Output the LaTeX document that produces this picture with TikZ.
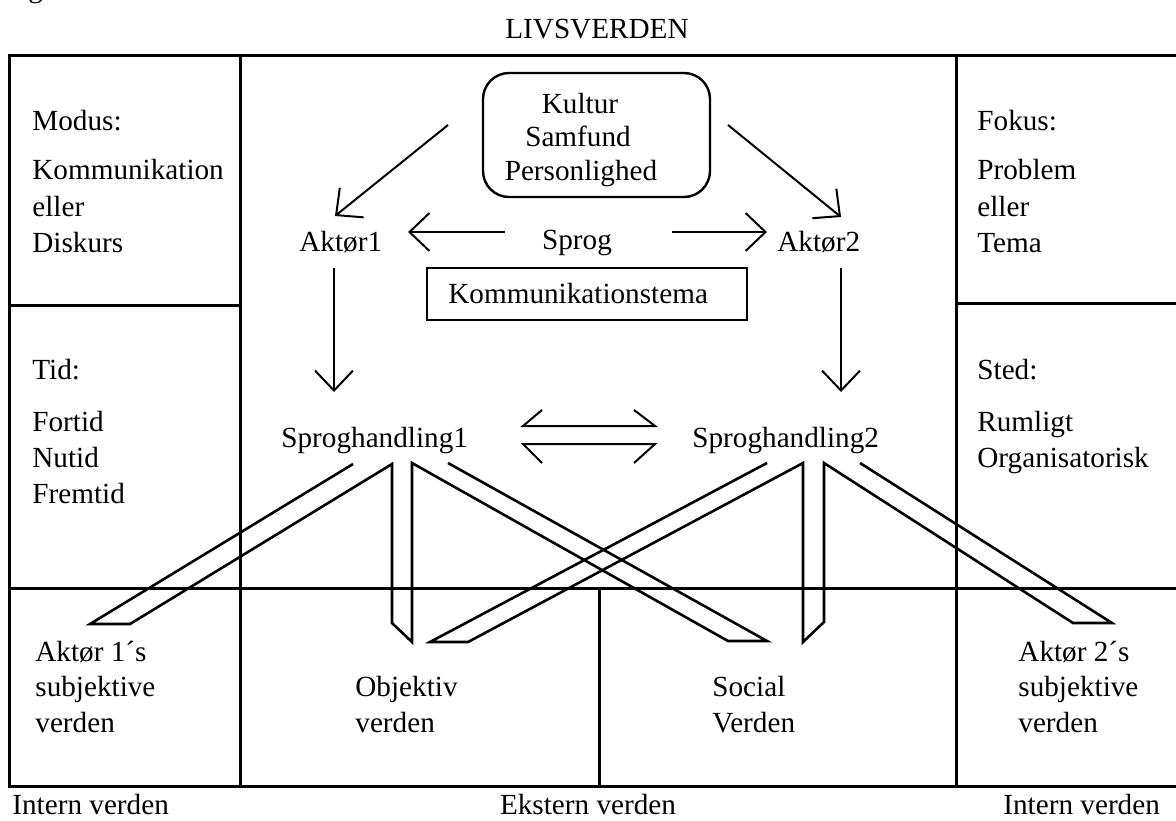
\documentclass[tikz,border=0pt]{standalone}
\usepackage{fontspec}
\setmainfont{Liberation Serif}
\usetikzlibrary{arrows.meta,calc}
\begin{document}
\begin{tikzpicture}[x=0.5pt,y=-0.5pt,
  frame/.style={line width=1.5pt},
  wedge/.style={line width=1.3pt,line join=miter},
  conn/.style={line width=1pt,-{Straight Barb[length=10pt,width=19pt,line width=1pt]}},
  barb/.style={line width=1pt},
  txt/.style={font=\fontsize{14.6}{18.25}\selectfont,inner sep=0pt,anchor=base west},
  ctxt/.style={font=\fontsize{14.6}{18.25}\selectfont,inner sep=0pt,anchor=base},
  kbox/.style={draw,line width=1.2pt,rounded corners=13pt,inner sep=0pt},
  tbox/.style={draw,line width=1.2pt,inner sep=0pt}]
\useasboundingbox (0,0) rectangle (1176,820);
\fill[white] (0,0) rectangle (1176,820);

% fragment of a line above the figure
\node[txt] (gfrag) at (28,-2.4) {g};

% frame
\draw[frame] (1180,55) -- (9,55) -- (9,786) -- (1180,786);
\draw[frame] (240,55) -- (240,786);
\draw[frame] (956,55) -- (956,786);
\draw[frame] (9,305) -- (240,305);
\draw[frame] (956,303) -- (1180,303);
\draw[frame] (9,588) -- (1180,588);
\draw[frame] (599,588) -- (599,786);

% title and bottom labels
\node[ctxt] (livs) at (597,38) {LIVSVERDEN};
\node[txt] (int1) at (12,814) {Intern verden};
\node[ctxt] (ekst) at (588,814) {Ekstern verden};
\node[txt] (int2) at (1003,814) {Intern verden};

% left column
\node[txt] (modus) at (32,130) {Modus:};
\node[txt] (komm) at (32,179) {Kommunikation};
\node[txt] (eller1) at (32,216) {eller};
\node[txt] (disk) at (32,252) {Diskurs};
\node[txt] (tid) at (32,379) {Tid:};
\node[txt] (fortid) at (32,431) {Fortid};
\node[txt] (nutid) at (32,467) {Nutid};
\node[txt] (fremtid) at (32,503) {Fremtid};

% right column
\node[txt] (fokus) at (977,130) {Fokus:};
\node[txt] (problem) at (977,179) {Problem};
\node[txt] (eller2) at (977,216) {eller};
\node[txt] (tema) at (977,252) {Tema};
\node[txt] (sted) at (977,379) {Sted:};
\node[txt] (rum) at (977,431) {Rumligt};
\node[txt] (org) at (977,467) {Organisatorisk};

% culture box
\node[kbox,minimum width=113.5pt,minimum height=62pt] (kbox) at (596.5,135) {};
\node[ctxt] (kultur) at (580,113) {Kultur};
\node[ctxt] (samfund) at (578,146) {Samfund};
\node[ctxt] (person) at (581,180) {Personlighed};

% actors and language
\node[txt] (akt1) at (299,251) {Aktør1};
\node[txt] (akt2) at (777,251) {Aktør2};
\node[ctxt] (sprog) at (577,249) {Sprog};
\node[tbox,minimum width=160pt,minimum height=26pt] (ktbox) at (587,294) {};
\node[txt] (ktema) at (448,303) {Kommunikationstema};

% speech acts
\node[txt] (sh1) at (281,447) {Sproghandling1};
\node[txt] (sh2) at (692,447) {Sproghandling2};

% bottom worlds
\node[txt] (a1s1) at (35,661) {Aktør 1´s};
\node[txt] (a1s2) at (35,696) {subjektive};
\node[txt] (a1s3) at (35,732) {verden};
\node[txt] (obj1) at (355,696) {Objektiv};
\node[txt] (obj2) at (355,732) {verden};
\node[txt] (soc1) at (712,696) {Social};
\node[txt] (soc2) at (712,732) {Verden};
\node[txt] (a2s1) at (1018,661) {Aktør 2´s};
\node[txt] (a2s2) at (1018,696) {subjektive};
\node[txt] (a2s3) at (1018,732) {verden};

% connector end points
\coordinate (kl) at (448,125);
\coordinate (a1in) at (335,216);
\coordinate (kr) at (728,125);
\coordinate (a2in) at (841,217);
\coordinate (sl) at (505,232);
\coordinate (sltip) at (408,232);
\coordinate (sr) at (672,232);
\coordinate (srtip) at (767,232);
\coordinate (a1d) at (334,268);
\coordinate (sh1in) at (334,392);
\coordinate (a2d) at (841,268);
\coordinate (sh2in) at (841,392);

\draw[conn] (kl) -- (a1in);
\draw[conn] (kr) -- (a2in);
\draw[conn] (sl) -- (sltip);
\draw[conn] (sr) -- (srtip);
\draw[conn] (a1d) -- (sh1in);
\draw[conn] (a2d) -- (sh2in);

% exchange arrows between the speech acts
\coordinate (u1) at (523,426);
\coordinate (u2) at (655,426);
\coordinate (l1) at (523,444);
\coordinate (l2) at (655,444);
\draw[barb] ($(u1)+(19,-16)$) -- (u1) -- (u2) -- ($(u2)+(-21,-16)$);
\draw[barb] ($(l1)+(19,19)$) -- (l1) -- (l2) -- ($(l2)+(-21,19)$);

% wedges from Sproghandling1
\draw[wedge] (353,464) -- (90,624) -- (130,624) -- (392,464) -- (392,623)
  -- (412,642) -- (412,463) -- (728,641) -- (767,641) -- (448,463);
% wedges from Sproghandling2
\draw[wedge] (767,463) -- (430,642) -- (468,642) -- (803,463) -- (803,642)
  -- (824,622) -- (824,463) -- (1073,623) -- (1112,623) -- (860,463);
\end{tikzpicture}
\end{document}
